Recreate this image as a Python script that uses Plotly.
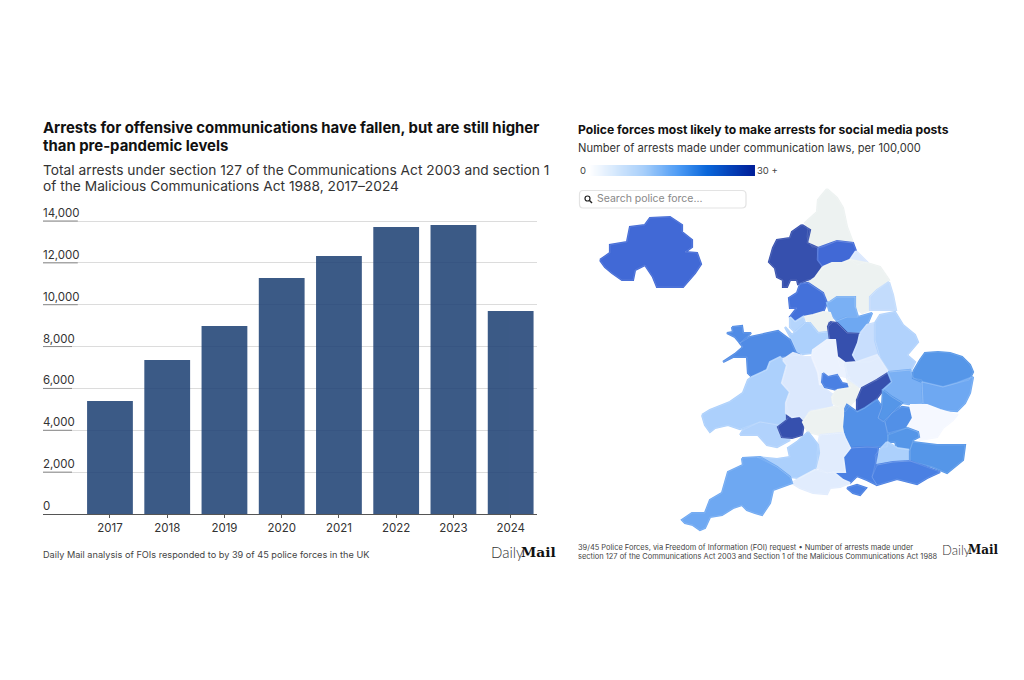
import plotly.graph_objects as go
from plotly.colors import sample_colorscale

YEARS = ["2017", "2018", "2019", "2020", "2021", "2022", "2023", "2024"]
ARRESTS = [5400, 7360, 8980, 11280, 12330, 13710, 13810, 9700]
Y_TICKS = [0, 2000, 4000, 6000, 8000, 10000, 12000, 14000]
Y_LABELS = ["0", "2,000", "4,000", "6,000", "8,000", "10,000", "12,000", "14,000"]

# Police-force rates per 100,000 (None = no data); outlines are traced from the picture.
FORCE_RATES = {
    "Northern Ireland": 25, "Northumbria": None, "Cumbria": 30, "Durham": 25, "Cleveland": 5,
    "North Yorkshire": None, "Humberside": 7.5, "Lancashire": 24, "West Yorkshire": 14,
    "South Yorkshire": 15, "Greater Manchester": None, "Merseyside": 9, "Cheshire": 10,
    "Derbyshire": 30, "Nottinghamshire": 7, "Lincolnshire": 9.5, "Anglesey": 20,
    "North Wales": 20, "Dyfed-Powys": 10, "South Wales": 9.5, "Gwent": 30,
    "West Mercia": 5, "Staffordshire": 2.5, "West Midlands": 22, "Warwickshire": None,
    "Leicestershire": 4, "Northamptonshire": 30, "Cambridgeshire": 14, "Norfolk": 18,
    "Suffolk": 15, "Bedfordshire": 18, "Hertfordshire": 19, "Essex": 1,
    "Thames Valley": 19, "Gloucestershire": None, "London": 18, "Surrey": 10, "Kent": 18,
    "Sussex": 22, "Hampshire": 22, "Isle of Wight": 22, "Wiltshire": 4,
    "Avon and Somerset": 10, "Dorset": 4, "Devon and Cornwall": 15,
}
FORCE_OUTLINES = {
    "Northern Ireland": [(600,260),(610,253),(610,245),(627,242),(630,227),(645,225),(650,218),(670,217),(682,225),(682,232),(692,240),(692,247),(685,252),(697,253),(701,264),(695,273),(683,287),(657,287),(653,277),(645,265),(635,270),(633,280),(622,280),(612,273),(605,267)],
    "Northumbria": [(827,189),(837,198),(843,208),(847,227),(853,243),(837,241),(823,247),(812,247),(807,237),(808,228),(805,223),(817,212),(818,200)],
    "Cumbria": [(802,225),(810,230),(807,243),(818,248),(817,260),(823,267),(815,278),(807,280),(798,284),(797,280),(790,280),(787,287),(783,287),(783,280),(777,277),(775,268),(769,262),(773,248),(777,240),(790,238),(792,232)],
    "Durham": [(818,248),(823,246),(837,241),(853,243),(856,251),(850,260),(842,263),(832,263),(823,267),(818,260)],
    "Cleveland": [(856,251),(850,260),(857,265),(867,262),(860,255)],
    "North Yorkshire": [(823,267),(832,263),(842,263),(850,260),(867,263),(880,267),(889,280),(877,290),(870,297),(870,310),(862,313),(855,307),(855,297),(837,297),(830,302),(823,293),(808,283),(815,278)],
    "Humberside": [(889,282),(877,290),(870,297),(870,310),(882,310),(896,310),(893,295)],
    "Lancashire": [(800,284),(808,283),(823,293),(827,303),(823,312),(813,315),(803,317),(795,322),(790,317),(797,308),(790,308),(789,298),(797,293)],
    "West Yorkshire": [(830,302),(837,297),(855,297),(855,307),(858,317),(847,317),(837,321),(830,313),(827,303)],
    "South Yorkshire": [(837,321),(847,317),(858,317),(872,313),(867,325),(860,332),(847,333),(837,323)],
    "Greater Manchester": [(803,317),(813,315),(823,312),(830,313),(833,322),(828,327),(828,332),(818,333),(810,323)],
    "Merseyside": [(790,317),(795,322),(803,317),(805,323),(795,332),(790,327)],
    "Cheshire": [(785,327),(792,335),(805,323),(810,323),(818,333),(828,332),(830,340),(813,353),(803,354),(797,353),(792,340)],
    "Derbyshire": [(830,322),(837,323),(847,333),(860,334),(858,343),(853,355),(857,362),(847,363),(845,369),(840,367),(838,360),(837,353),(830,340),(828,327)],
    "Nottinghamshire": [(860,334),(867,325),(875,323),(875,340),(880,357),(870,362),(857,362),(853,355),(858,343)],
    "Lincolnshire": [(875,323),(880,315),(895,312),(903,325),(915,335),(918,342),(907,355),(915,362),(911,370),(890,372),(880,357),(875,340)],
    "Anglesey": [(732,327),(742,326),(743,333),(751,333),(740,343),(735,337),(727,333),(733,332)],
    "North Wales": [(723,362),(735,354),(743,347),(740,343),(750,337),(760,335),(778,331),(790,340),(796,353),(800,355),(780,357),(770,362),(767,370),(752,377),(748,373),(747,357),(733,357)],
    "Dyfed-Powys": [(702,415),(710,410),(730,402),(743,393),(748,380),(752,377),(767,370),(770,362),(780,357),(787,365),(782,383),(790,392),(786,403),(790,417),(778,425),(760,422),(740,429),(728,425),(715,428),(710,432),(705,425)],
    "South Wales": [(740,435),(743,430),(760,422),(778,425),(778,433),(783,438),(790,440),(777,447),(767,445),(758,435)],
    "Gwent": [(787,413),(792,417),(800,416),(804,423),(802,435),(792,438),(782,437),(778,427),(787,420)],
    "West Mercia": [(783,360),(793,353),(805,357),(812,357),(818,372),(820,385),(833,395),(832,407),(810,410),(804,420),(800,416),(792,417),(786,413),(786,403),(790,392),(782,383),(787,365)],
    "Staffordshire": [(812,357),(813,350),(827,340),(835,340),(837,357),(845,363),(847,373),(850,378),(837,375),(823,373),(820,385),(818,372)],
    "West Midlands": [(823,373),(828,377),(837,375),(842,383),(852,385),(850,388),(837,390),(825,387),(822,382)],
    "Warwickshire": [(837,390),(850,388),(847,378),(858,387),(858,397),(852,403),(845,412),(833,403),(832,397)],
    "Leicestershire": [(845,363),(857,362),(877,355),(888,372),(877,380),(867,383),(860,387),(847,378),(847,373)],
    "Northamptonshire": [(888,373),(892,382),(883,390),(877,398),(865,408),(857,412),(857,400),(862,388),(877,380)],
    "Cambridgeshire": [(888,372),(910,370),(913,378),(922,380),(923,403),(913,405),(902,403),(892,397),(883,390),(892,382)],
    "Norfolk": [(913,372),(920,360),(925,353),(938,352),(950,353),(962,357),(970,365),(973,372),(969,380),(957,383),(943,387),(922,382),(913,378)],
    "Suffolk": [(922,382),(943,387),(957,383),(973,377),(970,393),(965,403),(957,411),(940,410),(927,405),(923,403)],
    "Bedfordshire": [(883,390),(892,397),(902,403),(892,413),(883,422),(878,418),(882,407)],
    "Hertfordshire": [(892,413),(902,407),(910,408),(913,418),(907,428),(888,433),(885,422)],
    "Essex": [(910,405),(927,405),(940,410),(957,415),(953,420),(943,428),(937,437),(920,440),(918,432),(907,428),(913,418)],
    "Thames Valley": [(843,413),(847,405),(857,412),(865,408),(877,400),(882,407),(878,418),(885,422),(888,437),(887,447),(867,447),(850,448),(845,438),(842,427)],
    "Gloucestershire": [(810,412),(832,407),(843,405),(843,415),(842,427),(843,433),(820,435),(808,432),(803,422)],
    "London": [(888,435),(907,428),(918,432),(919,437),(913,440),(910,450),(897,448),(895,442),(888,442)],
    "Surrey": [(887,442),(895,447),(897,448),(910,450),(910,461),(893,462),(877,465),(875,455),(880,450)],
    "Kent": [(913,442),(937,445),(965,445),(963,460),(947,473),(933,467),(910,461),(910,450)],
    "Sussex": [(872,477),(877,465),(893,462),(910,461),(940,472),(927,478),(917,484),(897,479),(877,485)],
    "Hampshire": [(843,457),(850,448),(867,447),(878,448),(875,465),(872,477),(877,485),(867,480),(857,476),(850,483),(843,480),(833,472),(845,472)],
    "Isle of Wight": [(847,488),(857,485),(866,488),(860,495),(853,493)],
    "Wiltshire": [(820,435),(843,433),(845,438),(850,448),(843,457),(845,472),(833,472),(827,473),(818,468),(817,453),(818,445)],
    "Avon and Somerset": [(808,432),(818,445),(819,453),(815,470),(800,478),(790,477),(777,467),(760,458),(757,457),(777,459),(790,457),(788,448),(797,442)],
    "Dorset": [(792,483),(800,478),(815,470),(827,473),(833,472),(843,480),(850,483),(840,487),(830,488),(827,494),(813,493),(800,488)],
    "Devon and Cornwall": [(742,458),(760,457),(777,467),(790,477),(792,483),(773,490),(770,503),(762,515),(755,513),(747,510),(742,505),(733,508),(722,515),(710,517),(705,528),(700,530),(693,525),(685,523),(682,520),(692,513),(705,513),(710,500),(722,493),(728,472),(743,465)],
}
LEGEND_STOPS = list(range(0, 31))
NO_DATA = "#edf2f1"
MAP_SCALE = [[0, "#fbfcff"], [1/6, "#dbe8fd"], [1/3, "#acd0fc"], [0.5, "#6ea8f2"],
             [0.6, "#5596e8"], [22/30, "#4a80e3"], [25/30, "#4169d6"], [1, "#3650ae"]]
LEGEND_SCALE = [[0, "#ffffff"], [0.33, "#a8cffa"], [0.55, "#4b9af5"], [0.72, "#0a66d9"], [1, "#00209a"]]
FONT = "Inter"
INK = "#1c1c1c"
W, H = 1024, 680

fig = go.Figure()
fig.add_bar(x=YEARS, y=ARRESTS, marker=dict(color="#1f4275", line=dict(width=0)), opacity=0.87,
            width=0.8, hoverinfo="x+y", xaxis="x", yaxis="y")

border_x, border_y = [], []
for name, outline in FORCE_OUTLINES.items():
    rate = FORCE_RATES[name]
    colour = NO_DATA if rate is None else sample_colorscale(MAP_SCALE, rate / 30)[0]
    xs = [p[0] for p in outline] + [outline[0][0]]
    ys = [p[1] for p in outline] + [outline[0][1]]
    fig.add_scatter(x=xs, y=ys, mode="lines", fill="toself", fillcolor=colour,
                    line=dict(color=colour, width=2.2, shape="linear"), name=name,
                    showlegend=False, hoverinfo="name", xaxis="x2", yaxis="y2")
    border_x += xs + [None]
    border_y += ys + [None]
fig.add_scatter(x=border_x, y=border_y, mode="lines", line=dict(color="rgba(255,255,255,0.22)", width=0.5),
                showlegend=False, hoverinfo="skip", xaxis="x2", yaxis="y2")

# gradient legend
fig.add_heatmap(z=[LEGEND_STOPS, LEGEND_STOPS], x=[588.7 + 5.45 * v for v in LEGEND_STOPS], y=[167.75, 173.25],
                zmin=0, zmax=30, zsmooth="best", colorscale=LEGEND_SCALE,
                showscale=False, xaxis="x2", yaxis="y2", hoverinfo="skip")

def text(x, y, s, size, color=INK, weight=400, family=FONT, anchor="left"):
    fig.add_annotation(xref="paper", yref="paper", x=(x - 2) / W, y=1 - y / H, text=s, showarrow=False,
                       xanchor=anchor, yanchor="middle", align=anchor,
                       font=dict(family=family, size=size, color=color, weight=weight))

text(43, 128, "Arrests for offensive communications have fallen, but are still higher", 14.9, "#111", 700)
text(43, 146, "than pre-pandemic levels", 14.9, "#111", 700)
text(43, 170, "Total arrests under section 127 of the Communications Act 2003 and section 1", 13.75, "#333")
text(43, 186, "of the Malicious Communications Act 1988, 2017–2024", 13.75, "#333")
text(43, 554, "Daily Mail analysis of FOIs responded to by 39 of 45 police forces in the UK", 9.16, "#444")
text(578, 129, "Police forces most likely to make arrests for social media posts", 12.13, "#111", 700)
text(578, 148, "Number of arrests made under communication laws, per 100,000", 11.17, "#333")
text(580, 170.5, "0", 9.5, "#444")
text(757, 170.5, "30 +", 9.5, "#444")
text(597, 198.5, "Search police force...", 10.5, "#888")
text(578, 547, "39/45 Police Forces, via Freedom of Information (FOI) request • Number of arrests made under", 7.46, "#444")
text(578, 556, "section 127 of the Communications Act 2003 and Section 1 of the Malicious Communications Act 1988", 7.46, "#444")
for dx, y, sz in ((491, 552, 15), (942, 550, 13)):
    text(dx, y, "Daily", sz, "#333", 300, "Lato")
    text(dx + sz * 2.0, y, "Mail", sz * 0.92, "#111", 900, "DejaVu Serif")

shapes = [dict(type="path", xref="x2", yref="y2", fillcolor="white", line=dict(color="#e3e3e3", width=1.2),
               path="M 583 190.5 L 742 190.5 Q 746 190.5 746 194.5 L 746 204 Q 746 208 742 208 L 583 208 "
                    "Q 579.5 208 579.5 204 L 579.5 194.5 Q 579.5 190.5 583 190.5 Z"),
          dict(type="circle", xref="x2", yref="y2", x0=585, x1=590, y0=196, y1=201, line=dict(color="#222", width=1.2)),
          dict(type="line", xref="x2", yref="y2", x0=589.5, x1=592, y0=200.5, y1=203, line=dict(color="#222", width=1.4))]
for tick, label in zip(Y_TICKS[1:], Y_LABELS[1:]):
    shapes.append(dict(type="line", xref="x2", yref="y", x0=43, x1=43 + 5.8 * len(label), y0=tick, y1=tick,
                       line=dict(color="#888", width=1)))
fig.update_layout(
    width=W, height=H, autosize=False,
    margin=dict(l=0, r=0, t=0, b=0), paper_bgcolor="white", plot_bgcolor="rgba(0,0,0,0)",
    font=dict(family=FONT, color="#333"), showlegend=False, bargap=0.2, shapes=shapes,
    xaxis=dict(domain=[43 / W, 537 / W], type="category", categoryorder="array", categoryarray=YEARS,
               range=[-1.17, 7.46], showgrid=False, showline=True, linecolor="#555", linewidth=1,
               ticks="outside", ticklen=3, tickcolor="#555", tickfont=dict(size=11.5, color="#333"),
               anchor="y", fixedrange=True),
    yaxis=dict(domain=[1 - 514 / H, 1 - (221 - 20.93) / H], range=[0, 15000], tickvals=Y_TICKS, ticktext=Y_LABELS,
               ticklabelposition="inside top", ticklabelstandoff=-3, showgrid=True, gridcolor="#dcdcdc", gridwidth=1,
               showline=False, zeroline=False, ticks="", tickfont=dict(size=11.5, color="#333"),
               anchor="x", fixedrange=True),
    xaxis2=dict(domain=[0, 1], range=[0, W], visible=False, anchor="y2", fixedrange=True),
    yaxis2=dict(domain=[0, 1], range=[H, 0], visible=False, anchor="x2", fixedrange=True),
)
fig.write_html("out.html", config={"displayModeBar": False},
               post_script="document.body.style.margin='0';document.body.style.padding='0';")
